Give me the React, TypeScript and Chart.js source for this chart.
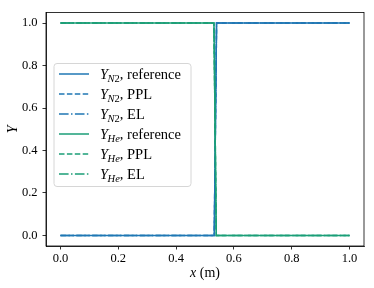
import React, { useEffect, useRef } from "react";
import { Chart, registerables } from "chart.js";

Chart.register(...registerables);

// Data
const xN2 = [0, 0.532, 0.540, 1];
const yN2 = [0, 0, 1, 1];
const xHe = [0, 0.531, 0.539, 1];
const yHe = [1, 1, 0, 0];
const xTicks = [0, 0.2, 0.4, 0.6, 0.8, 1.0];
const yTicks = [0, 0.2, 0.4, 0.6, 0.8, 1.0];

const BLUE = "#1f77b4";
const GREEN = "#1b9e77";
const FONT = '"Liberation Serif", "Times New Roman", serif';

const DASHED = [5.5, 2.4];
const DASHDOT = [9.6, 2.4, 1.5, 2.4];

type Entry = { color: string; dash: number[]; sub: string; rest: string };
const legendEntries: Entry[] = [
  { color: BLUE, dash: [], sub: "N2", rest: ", reference" },
  { color: BLUE, dash: DASHED, sub: "N2", rest: ", PPL" },
  { color: BLUE, dash: DASHDOT, sub: "N2", rest: ", EL" },
  { color: GREEN, dash: [], sub: "He", rest: ", reference" },
  { color: GREEN, dash: DASHED, sub: "He", rest: ", PPL" },
  { color: GREEN, dash: DASHDOT, sub: "He", rest: ", EL" },
];

const pts = (xs: number[], ys: number[]) => xs.map((x, i) => ({ x, y: ys[i] }));

const decor = {
  id: "decor",
  afterDraw(chart: any) {
    const { ctx, chartArea: a } = chart;
    ctx.save();
    // full frame
    ctx.strokeStyle = "#000";
    ctx.lineWidth = 0.8;
    ctx.setLineDash([]);
    ctx.strokeRect(a.left, a.top, a.right - a.left, a.bottom - a.top);

    // axis labels
    ctx.fillStyle = "#000";
    ctx.textBaseline = "alphabetic";
    ctx.font = `italic 14px ${FONT}`;
    const wx = ctx.measureText("x").width;
    ctx.font = `14px ${FONT}`;
    const wm = ctx.measureText(" (m)").width;
    const cx = (a.left + a.right) / 2;
    const sx = cx - (wx + wm) / 2;
    ctx.font = `italic 14px ${FONT}`;
    ctx.textAlign = "left";
    ctx.fillText("x", sx, 277);
    ctx.font = `14px ${FONT}`;
    ctx.fillText(" (m)", sx + wx, 277);
    ctx.save();
    ctx.translate(17, (a.top + a.bottom) / 2);
    ctx.rotate(-Math.PI / 2);
    ctx.font = `italic 14px ${FONT}`;
    ctx.textAlign = "center";
    ctx.fillText("Y", 0, 0);
    ctx.restore();

    // legend
    const bx = 54, by = 63.5, bw = 137, bh = 123, r = 3;
    ctx.beginPath();
    ctx.moveTo(bx + r, by);
    ctx.arcTo(bx + bw, by, bx + bw, by + bh, r);
    ctx.arcTo(bx + bw, by + bh, bx, by + bh, r);
    ctx.arcTo(bx, by + bh, bx, by, r);
    ctx.arcTo(bx, by, bx + bw, by, r);
    ctx.closePath();
    ctx.fillStyle = "rgba(255,255,255,0.8)";
    ctx.fill();
    ctx.strokeStyle = "#d6d6d6";
    ctx.lineWidth = 1;
    ctx.stroke();

    legendEntries.forEach((e, i) => {
      const y = 74 + i * 20;
      ctx.beginPath();
      ctx.strokeStyle = e.color;
      ctx.lineWidth = 1.5;
      ctx.setLineDash(e.dash);
      ctx.moveTo(59, y);
      ctx.lineTo(89, y);
      ctx.stroke();
      ctx.setLineDash([]);
      const base = y + 5;
      let tx = 100;
      ctx.fillStyle = "#000";
      ctx.textAlign = "left";
      ctx.font = `italic 14.5px ${FONT}`;
      ctx.fillText("Y", tx, base);
      tx += ctx.measureText("Y").width - 0.5;
      if (e.sub === "N2") {
        ctx.font = `italic 10.5px ${FONT}`;
        ctx.fillText("N", tx, base + 3);
        tx += ctx.measureText("N").width;
        ctx.font = `10.5px ${FONT}`;
        ctx.fillText("2", tx, base + 3);
        tx += ctx.measureText("2").width;
      } else {
        ctx.font = `italic 10.5px ${FONT}`;
        ctx.fillText("He", tx, base + 3);
        tx += ctx.measureText("He").width;
      }
      ctx.font = `14.5px ${FONT}`;
      ctx.fillText(e.rest, tx, base);
    });
    ctx.restore();
  },
};

export default function App() {
  const ref = useRef<HTMLCanvasElement>(null);
  useEffect(() => {
    document.body.style.margin = "0";
    const mk = (label: string, xs: number[], ys: number[], color: string, dash: number[], order: number) => ({
      label,
      data: pts(xs, ys),
      borderColor: color,
      backgroundColor: color,
      borderWidth: 1.5,
      borderDash: dash,
      pointRadius: 0,
      fill: false,
      tension: 0,
      order,
    });
    const tickCfg = (vals: number[]) => ({
      afterBuildTicks: (s: any) => {
        s.ticks = vals.map((v) => ({ value: v }));
      },
    });
    const chart = new Chart(ref.current!, {
      type: "line",
      data: {
        datasets: [
          mk("Y_N2, reference", xN2, yN2, BLUE, [], 3),
          mk("Y_N2, PPL", xN2, yN2, BLUE, DASHED, 3),
          mk("Y_N2, EL", xN2, yN2, BLUE, DASHDOT, 3),
          mk("Y_He, reference", xHe, yHe, GREEN, [], 1),
          mk("Y_He, PPL", xHe, yHe, GREEN, DASHED, 1),
          mk("Y_He, EL", xHe, yHe, GREEN, DASHDOT, 1),
        ],
      },
      options: {
        responsive: false,
        animation: false,
        layout: { padding: { top: 6, right: 10, left: 0, bottom: 0 } },
        plugins: { legend: { display: false }, tooltip: { enabled: false } },
        scales: {
          x: {
            type: "linear",
            min: -0.05,
            max: 1.05,
            ...tickCfg(xTicks),
            afterFit: (s: any) => {
              s.height = 42;
            },
            grid: { display: true, drawOnChartArea: false, drawTicks: true, tickLength: 3.5, color: "#000", lineWidth: 0.8 },
            border: { display: true, color: "#000", width: 0.8 },
            ticks: {
              color: "#000",
              padding: 2,
              maxRotation: 0,
              font: { family: FONT, size: 12.5 },
              callback: (v: any) => Number(v).toFixed(1),
            },
          },
          y: {
            type: "linear",
            min: -0.05,
            max: 1.05,
            ...tickCfg(yTicks),
            afterFit: (s: any) => {
              s.width = 46;
            },
            grid: { display: true, drawOnChartArea: false, drawTicks: true, tickLength: 3.5, color: "#000", lineWidth: 0.8 },
            border: { display: true, color: "#000", width: 0.8 },
            ticks: {
              color: "#000",
              padding: 5,
              font: { family: FONT, size: 12.5 },
              callback: (v: any) => Number(v).toFixed(1),
            },
          },
        },
      },
      plugins: [decor],
    } as any);
    return () => chart.destroy();
  }, []);
  return (
    <div style={{ position: "absolute", left: 0, top: 0, width: 374, height: 288 }}>
      <canvas ref={ref} width={374} height={288} style={{ display: "block" }} />
    </div>
  );
}
